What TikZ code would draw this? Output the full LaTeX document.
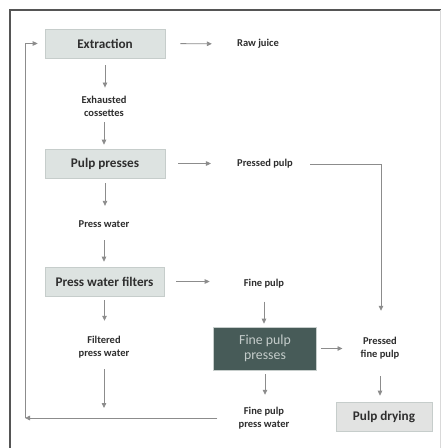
\documentclass[tikz,border=0pt]{standalone}
\usepackage{fontspec}
\setmainfont{Carlito}
\usetikzlibrary{arrows.meta}
\definecolor{boxfill}{HTML}{DDE3E1}
\definecolor{boxline}{HTML}{C6CDCB}
\definecolor{darkfill}{HTML}{475B58}
\definecolor{darktext}{HTML}{C4CCCA}
\definecolor{dryfill}{HTML}{E2E3E2}
\definecolor{arrowgray}{HTML}{8C8C8C}
\definecolor{txt}{HTML}{2E2E2E}
\definecolor{frame}{HTML}{555555}
\tikzset{
  procbox/.style={draw=boxline, fill=boxfill, line width=0.6pt, minimum width=120pt, minimum height=29pt, inner sep=0pt, font=\fontsize{13.2}{15}\selectfont\bfseries, text=txt},
  darkbox/.style={draw=boxline, fill=darkfill, line width=0.6pt, minimum width=103pt, minimum height=43pt, inner sep=0pt, align=center, font=\fontsize{13.8}{15.5}\selectfont, text=darktext},
  drybox/.style={draw=boxline, fill=dryfill, line width=0.6pt, minimum width=96pt, minimum height=29pt, inner sep=0pt, font=\fontsize{13.2}{15}\selectfont\bfseries, text=txt},
  lbl/.style={inner sep=0pt, align=center, font=\fontsize{10.5}{13}\selectfont\bfseries, text=txt},
  flow/.style={draw=arrowgray, line width=0.8pt, -{Triangle[length=5pt,width=4.5pt]}},
  plain/.style={draw=arrowgray, line width=0.8pt}
}
\begin{document}
\begin{tikzpicture}[x=1pt,y=-1pt]
\useasboundingbox (0,0) rectangle (441,448);
\fill[white] (0,0) rectangle (441,448);
% frame
\draw[frame, line width=1.4pt] (10,448) -- (10,10) -- (441,10);
\draw[black!15, line width=0.6pt] (440,10) -- (440,448);

% nodes
\node[procbox] (ext) at (105,43.5) {Extraction};
\node[lbl] (raw) at (258,44) {Raw juice};
\node[lbl] (exh) at (104,106) {Exhausted\\cossettes};
\node[procbox] (pp) at (105,163.5) {Pulp presses};
\node[lbl] (ppulp) at (265,164) {Pressed pulp};
\node[lbl] (pw) at (104,224.5) {Press water};
\node[procbox, minimum width=119pt] (pwf) at (104.5,281.5) {Press water filters};
\node[lbl] (fp) at (264,284) {Fine pulp};
\node[darkbox] (fpp) at (265,348.5) {Fine pulp\\presses};
\node[lbl] (pfp) at (380,348) {Pressed\\fine pulp};
\node[lbl] (fpw) at (104,347) {Filtered\\press water};
\node[lbl] (fppw) at (264,418) {Fine pulp\\press water};
\node[drybox] (pd) at (384,416.5) {Pulp drying};

\coordinate (c1) at (25,418);
\coordinate (c2) at (25,43.5);
\coordinate (j1) at (104,418);
\coordinate (k1) at (381,164);

% horizontal arrows
\draw[flow, shorten <=15pt, shorten >=25pt] (ext.east) -- (raw.west);
\draw[flow, shorten <=13pt, shorten >=26pt] (pp.east) -- (pp.east -| ppulp.west);
\draw[flow, shorten <=12pt, shorten >=34pt] (pwf.east) -- (pwf.east -| fp.west);
\draw[flow, shorten <=4pt, shorten >=18pt] (fpp.east) -- (fpp.east -| pfp.west);

% vertical arrows
\draw[flow, shorten <=7pt, shorten >=8pt] (ext.south) -- (ext.south |- exh.north);
\draw[flow, shorten <=6pt, shorten >=4pt] (exh.south) -- (exh.south |- pp.north);
\draw[flow, shorten <=5pt, shorten >=15pt] (pp.south) -- (pp.south |- pw.north);
\draw[flow, shorten <=12pt, shorten >=5pt] (pw.south) -- (pw.south |- pwf.north);
\draw[flow, shorten <=4pt, shorten >=15pt] (pwf.south) -- (pwf.south |- fpw.north);
\draw[flow, shorten <=11pt, shorten >=10pt] (fpw.south) -- (j1);
\draw[flow, shorten <=13pt, shorten >=3pt] (fp.south) -- (fp.south |- fpp.north);
\draw[flow, shorten <=4pt, shorten >=12pt] (fpp.south) -- (fpp.south |- fppw.north);
\draw[flow, shorten <=17pt, shorten >=6pt] (pfp.south) -- (pfp.south |- pd.north);

% pressed pulp to pressed fine pulp
\draw[flow, shorten <=17pt, shorten >=26pt] (ppulp.east) -- (k1) -- (k1 |- pfp.north);

% recycle loop
\draw[flow, shorten <=21pt] (fppw.west) -- (c1);
\draw[flow, shorten >=7pt] (c1) -- (c2) -- (ext.west);
\end{tikzpicture}
\end{document}
